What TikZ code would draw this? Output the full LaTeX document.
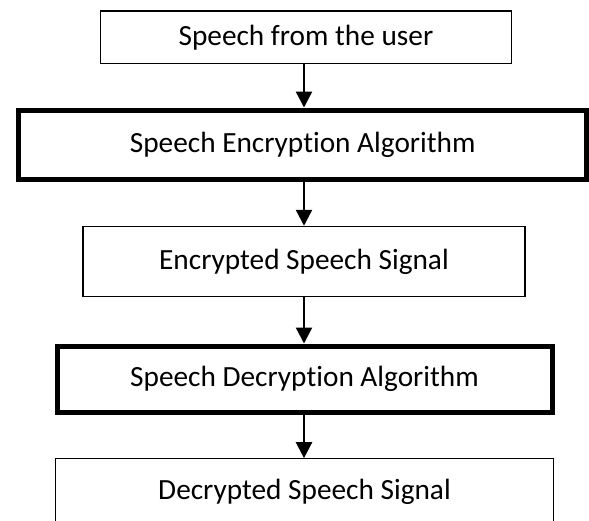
\documentclass[tikz,border=0pt]{standalone}
\usepackage{fontspec}
\setmainfont[Ligatures=NoCommon]{Carlito}
\usetikzlibrary{arrows.meta,positioning}
\tikzset{
  thinbox/.style={draw=black, line width=1.3pt, fill=white, align=center,
                  font=\fontsize{29.3}{35}\selectfont, inner sep=0pt},
  thickbox/.style={thinbox, line width=5pt},
  flow/.style={-{Triangle[length=16pt, width=16pt]}, line width=2.4pt, draw=black},
}
\begin{document}
\begin{tikzpicture}[x=1pt, y=-1pt]
\clip (0,0) rectangle (589,520);
\useasboundingbox (0,0) rectangle (589,520);
\node[thinbox, minimum width=410.7pt, minimum height=52.7pt] (user) at (305.9,37.2) {Speech from the user};
\node[thickbox, minimum width=567.5pt, minimum height=69pt] (enc) at (302.7,144.5) {Speech Encryption Algorithm};
\node[thinbox, minimum width=442pt, minimum height=70pt] (encsig) at (304,261.4) {Encrypted Speech Signal};
\node[thickbox, minimum width=495pt, minimum height=66pt] (dec) at (304.5,379) {Speech Decryption Algorithm};
\node[thinbox, minimum width=498pt, minimum height=66pt] (decsig) at (304.5,491.8) {Decrypted Speech Signal};
\draw[flow] (user.south -| encsig.south) -- (encsig.south |- enc.north);
\draw[flow] (enc.south -| encsig.south) -- (encsig.north);
\draw[flow] (encsig.south) -- (encsig.south |- dec.north);
\draw[flow] (dec.south -| encsig.south) -- (encsig.south |- decsig.north);
\end{tikzpicture}
\end{document}
